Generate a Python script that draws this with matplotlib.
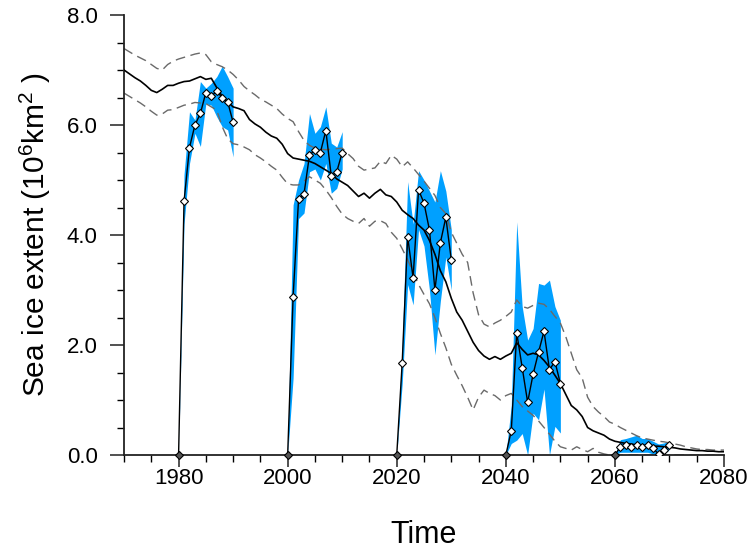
import numpy as np
import matplotlib
matplotlib.use("Agg")
import matplotlib.pyplot as plt

plt.rcParams['font.family'] = ['Liberation Sans', 'DejaVu Sans']
plt.rcParams['mathtext.fontset'] = 'custom'
plt.rcParams['mathtext.rm'] = 'Liberation Sans'
plt.rcParams['mathtext.it'] = 'Liberation Sans'

years = np.arange(1970, 2081)

# ensemble mean sea ice extent (10^6 km^2), 1970-2080
mean_ext = [7.00, 6.93, 6.86, 6.80, 6.72, 6.63, 6.59, 6.65, 6.72, 6.72,
            6.76, 6.79, 6.80, 6.84, 6.88, 6.83, 6.85, 6.68, 6.52, 6.42,
            6.33, 6.30, 6.26, 6.10, 6.02, 5.96, 5.87, 5.80, 5.76, 5.65,
            5.48, 5.40, 5.38, 5.36, 5.34, 5.30, 5.24, 5.18, 5.12, 5.02,
            4.96, 4.90, 4.80, 4.70, 4.76, 4.67, 4.76, 4.83, 4.73, 4.70,
            4.60, 4.45, 4.37, 4.30, 4.18, 4.09, 3.90, 3.65, 3.35, 3.15,
            2.85, 2.60, 2.45, 2.25, 2.05, 1.90, 1.80, 1.74, 1.79, 1.74,
            1.80, 1.85, 2.04, 1.92, 1.82, 1.85, 1.82, 1.72, 1.60, 1.45,
            1.30, 1.10, 0.90, 0.82, 0.70, 0.50, 0.44, 0.40, 0.36, 0.29,
            0.25, 0.23, 0.21, 0.20, 0.18, 0.18, 0.17, 0.16, 0.16, 0.15,
            0.14, 0.13, 0.11, 0.10, 0.09, 0.08, 0.08, 0.07, 0.07, 0.06,
            0.06]

upper_ext = [7.39, 7.33, 7.27, 7.22, 7.17, 7.10, 7.03, 7.00, 7.10, 7.16,
             7.20, 7.23, 7.26, 7.29, 7.31, 7.28, 7.15, 7.10, 7.06, 7.00,
             6.92, 6.82, 6.70, 6.62, 6.55, 6.47, 6.42, 6.36, 6.30, 6.20,
             6.12, 6.06, 5.88, 5.72, 5.63, 5.58, 5.56, 5.55, 5.56, 5.57,
             5.58, 5.48, 5.39, 5.25, 5.18, 5.20, 5.22, 5.34, 5.30, 5.45,
             5.38, 5.24, 5.33, 5.22, 5.10, 4.98, 4.85, 4.72, 4.50, 4.39,
             4.05, 3.85, 3.65, 3.50, 2.95, 2.55, 2.38, 2.33, 2.40, 2.45,
             2.52, 2.60, 2.82, 2.70, 2.67, 2.72, 2.76, 2.74, 2.65, 2.52,
             2.40, 2.15, 1.85, 1.55, 1.40, 1.05, 0.88, 0.78, 0.70, 0.60,
             0.56, 0.50, 0.45, 0.40, 0.35, 0.31, 0.29, 0.27, 0.25, 0.24,
             0.22, 0.20, 0.18, 0.15, 0.13, 0.11, 0.10, 0.10, 0.09, 0.09,
             0.09]

lower_ext = [6.58, 6.52, 6.46, 6.40, 6.33, 6.25, 6.18, 6.20, 6.27, 6.28,
             6.32, 6.36, 6.38, 6.41, 6.40, 6.39, 6.33, 6.27, 5.97, 5.75,
             5.66, 5.64, 5.60, 5.55, 5.46, 5.40, 5.33, 5.25, 5.18, 5.05,
             4.93, 4.91, 4.91, 4.98, 5.06, 5.00, 4.94, 4.82, 4.68, 4.52,
             4.38, 4.30, 4.25, 4.21, 4.30, 4.16, 4.25, 4.26, 4.21, 4.05,
             3.94, 3.75, 3.55, 3.32, 3.10, 2.92, 2.75, 2.50, 2.21, 1.95,
             1.65, 1.45, 1.26, 1.05, 0.82, 1.05, 1.18, 1.12, 1.08, 1.00,
             1.08, 1.12, 1.00, 0.88, 0.80, 0.72, 0.62, 0.50, 0.38, 0.25,
             0.15, 0.12, 0.09, 0.15, 0.10, 0.06, 0.12, 0.05, 0.02, 0.00,
             0.00, 0.00, 0.00, 0.00, 0.00, 0.00, 0.00, 0.00, 0.00, 0.00,
             0.00, 0.00, 0.00, 0.00, 0.00, 0.00, 0.00, 0.00, 0.00, 0.00,
             0.00]

# decadal predictions, each starts at 0 in the init year
init_years = [1980, 2000, 2020, 2040, 2060]
fc_mean = [
    [0, 4.61, 5.59, 6.00, 6.21, 6.59, 6.53, 6.61, 6.50, 6.42, 6.05],
    [0, 2.88, 4.65, 4.75, 5.45, 5.55, 5.50, 5.90, 5.07, 5.15, 5.50],
    [0, 1.68, 3.97, 3.22, 4.82, 4.58, 4.09, 3.00, 3.86, 4.32, 3.55],
    [0, 0.44, 2.22, 1.59, 0.96, 1.47, 1.87, 2.25, 1.55, 1.70, 1.30],
    [0, 0.15, 0.18, 0.15, 0.18, 0.15, 0.18, 0.12, 0.02, 0.09, 0.19],
]
fc_upper = [
    [0, 5.10, 6.24, 6.09, 6.79, 6.67, 6.76, 6.88, 7.07, 6.88, 6.67],
    [0, 4.55, 5.00, 5.30, 6.21, 5.85, 5.97, 6.33, 5.67, 5.60, 5.88],
    [0, 2.00, 4.97, 4.20, 5.17, 5.00, 4.80, 4.60, 5.17, 4.80, 4.10],
    [0, 0.90, 4.24, 2.70, 2.09, 2.30, 3.12, 3.09, 3.18, 2.70, 2.45],
    [0, 0.28, 0.30, 0.33, 0.36, 0.30, 0.30, 0.25, 0.20, 0.22, 0.25],
]
fc_lower = [
    [0, 4.20, 5.30, 5.85, 5.61, 6.39, 6.36, 6.15, 5.97, 5.91, 5.42],
    [0, 1.40, 4.30, 4.40, 5.15, 5.20, 5.00, 5.30, 4.76, 4.85, 5.20],
    [0, 1.30, 3.10, 2.73, 4.10, 3.80, 3.00, 1.82, 2.80, 3.60, 3.00],
    [0, 0.21, 0.27, 0.39, 0.00, 0.76, 0.64, 1.20, 0.00, 0.52, 0.40],
    [0, 0.05, 0.05, 0.05, 0.05, 0.05, 0.05, 0.02, 0.00, 0.02, 0.10],
]

fig = plt.figure(figsize=(7.54, 5.52), dpi=100)
ax = fig.add_axes([0.1645, 0.1757, 0.7957, 0.7971])

for y0, m, up, lo in zip(init_years, fc_mean, fc_upper, fc_lower):
    fx = np.arange(y0, y0 + len(m))
    ax.fill_between(fx, lo, up, color='#00A0FF', lw=0, zorder=1)

ax.plot(years, upper_ext, color='#6a6a6a', lw=1.0, ls=(0, (7, 4)), zorder=2)
ax.plot(years, lower_ext, color='#6a6a6a', lw=1.0, ls=(0, (7, 4)), zorder=2)
ax.plot(years, mean_ext, color='black', lw=1.2, zorder=3)

for y0, m in zip(init_years, fc_mean):
    fx = np.arange(y0, y0 + len(m))
    ax.plot(fx, m, color='black', lw=1.0, zorder=4)
    ax.plot(fx[1:], m[1:], ls='none', marker='D', ms=4.5, mfc='white',
            mec='black', mew=0.8, zorder=5)
    # start point sits on the axis line
    ax.plot(fx[0], m[0], ls='none', marker='D', ms=4.5, mfc='#555555',
            mec='black', mew=0.8, zorder=5, clip_on=False)

ax.set_xlim(1970, 2080)
ax.set_ylim(0, 8)
ax.set_xticks([1980, 2000, 2020, 2040, 2060, 2080])
ax.set_xticks(np.arange(1970, 2081, 5), minor=True)
ax.set_yticks([0, 2, 4, 6, 8])
ax.set_yticklabels(['0.0', '2.0', '4.0', '6.0', '8.0'])
ax.set_yticks(np.arange(0, 8.01, 0.5), minor=True)

for s in ['top', 'right']:
    ax.spines[s].set_visible(False)
for s in ['left', 'bottom']:
    ax.spines[s].set_linewidth(1.3)
    ax.spines[s].set_color('#222222')

ax.tick_params(axis='both', which='major', direction='out', width=1.1,
               labelsize=16, color='#222222')
ax.tick_params(axis='y', which='major', length=10, pad=9)
ax.tick_params(axis='x', which='major', length=8.5, pad=1)
ax.tick_params(axis='y', which='minor', direction='out', length=5, width=1.0)
ax.tick_params(axis='x', which='minor', direction='out', length=5, width=1.0)

ax.set_xlabel('Time', fontsize=22, labelpad=22)
ax.set_ylabel(r'Sea ice extent (10$^6$km$^2$ )', fontsize=21.5, labelpad=10)

fig.savefig('out.png', dpi=100)
